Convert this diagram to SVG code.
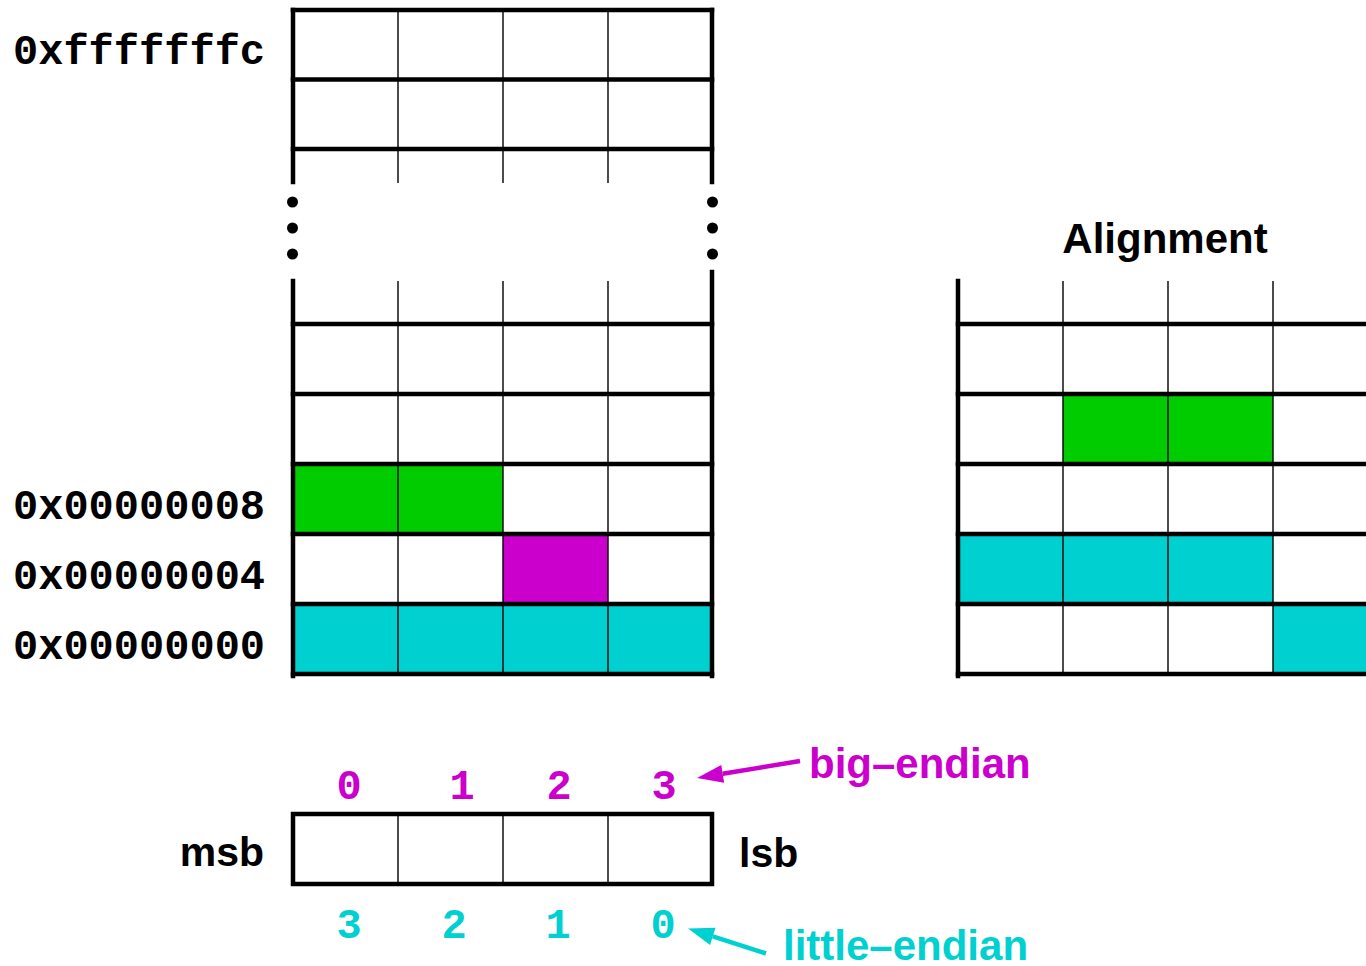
<svg xmlns="http://www.w3.org/2000/svg" width="1366" height="966" viewBox="0 0 1366 966">
  <style>
    .thick { stroke: #000; stroke-width: 4.5; fill: none; stroke-linecap: square; }
    .thin { stroke: #000; stroke-width: 1.4; fill: none; }
    .addr { font-family: "Liberation Mono", "Courier New", monospace; font-weight: bold; font-size: 42px; fill: #000; }
    .digit { font-family: "Liberation Mono", "Courier New", monospace; font-weight: bold; font-size: 42px; text-anchor: middle; }
    .label { font-family: "Liberation Sans", Arial, sans-serif; font-weight: bold; font-size: 41px; }
    .big { font-size: 42px; }
    .green { fill: #00cc00; }
    .magenta { fill: #cc00cc; }
    .cyan { fill: #00d0d0; }
  </style>
  <defs>
    <marker id="head-magenta" markerUnits="userSpaceOnUse" markerWidth="26" markerHeight="18" refX="0" refY="9" orient="auto" overflow="visible">
      <path d="M0,0 L26,9 L0,18 Z" fill="#cc00cc"/>
    </marker>
    <marker id="head-cyan" markerUnits="userSpaceOnUse" markerWidth="26" markerHeight="18" refX="0" refY="9" orient="auto" overflow="visible">
      <path d="M0,0 L26,9 L0,18 Z" fill="#00d0d0"/>
    </marker>
  </defs>

  <rect width="1366" height="966" fill="#fff"/>

  <!-- Memory column, byte addresses -->
  <g id="memory">
    <!-- filled bytes -->
    <rect class="green" x="293" y="464" width="210" height="70"/>
    <rect class="magenta" x="503" y="534" width="105" height="70"/>
    <rect class="cyan" x="293" y="604" width="419" height="70"/>

    <!-- top part -->
    <path class="thin" d="M398,10 V183 M503,10 V183 M608,10 V183"/>
    <path class="thick" d="M293,10 H712 M293,79.5 H712 M293,149 H712"/>
    <path class="thick" d="M293,10 V182 M712,10 V182" stroke-linecap="butt"/>

    <!-- ellipsis -->
    <g fill="#000">
      <circle cx="292.5" cy="202" r="5.5"/>
      <circle cx="292.5" cy="228" r="5.5"/>
      <circle cx="292.5" cy="254" r="5.5"/>
      <circle cx="712.5" cy="202" r="5.5"/>
      <circle cx="712.5" cy="228" r="5.5"/>
      <circle cx="712.5" cy="254" r="5.5"/>
    </g>

    <!-- bottom part -->
    <path class="thin" d="M398,281 V674 M503,281 V674 M608,281 V674"/>
    <path class="thick" d="M293,324 H712 M293,394 H712 M293,464 H712 M293,534 H712 M293,604 H712 M293,674 H712"/>
    <path class="thick" d="M293,281 V676 M712,272 V676" stroke-linecap="butt"/>
  </g>

  <g id="addresses">
    <text class="addr" x="13" y="64">0xfffffffc</text>
    <text class="addr" x="13" y="519">0x00000008</text>
    <text class="addr" x="13" y="589">0x00000004</text>
    <text class="addr" x="13" y="659">0x00000000</text>
  </g>

  <!-- Alignment column -->
  <g id="alignment">
    <text class="label big" x="1165" y="253" text-anchor="middle" fill="#000">Alignment</text>
    <rect class="green" x="1063" y="394" width="210" height="70"/>
    <rect class="cyan" x="958" y="534" width="315" height="70"/>
    <rect class="cyan" x="1273" y="604" width="93" height="70"/>
    <path class="thin" d="M1063,281 V674 M1168,281 V674 M1273,281 V674"/>
    <path class="thick" d="M958,324 H1368 M958,394 H1368 M958,464 H1368 M958,534 H1368 M958,604 H1368 M958,674 H1368"/>
    <path class="thick" d="M958,281 V676" stroke-linecap="butt"/>
  </g>

  <!-- Word layout: byte order -->
  <g id="word">
    <path class="thin" d="M398,814 V884 M503,814 V884 M608,814 V884"/>
    <rect class="thick" x="293" y="814" width="419" height="70" stroke-linecap="butt"/>
    <text class="label" x="264" y="866" text-anchor="end" fill="#000">msb</text>
    <text class="label" x="739" y="867" fill="#000">lsb</text>
  </g>

  <g id="big-endian">
    <text class="digit magenta" x="349" y="798.5">0</text>
    <text class="digit magenta" x="462" y="798.5">1</text>
    <text class="digit magenta" x="559" y="798.5">2</text>
    <text class="digit magenta" x="664" y="798.5">3</text>
    <text class="label big magenta" x="809" y="778">big–endian</text>
  </g>

  <g id="little-endian">
    <text class="digit cyan" x="349" y="938">3</text>
    <text class="digit cyan" x="454" y="938">2</text>
    <text class="digit cyan" x="558" y="938">1</text>
    <text class="digit cyan" x="663" y="938">0</text>
    <text class="label big cyan" x="783" y="960">little–endian</text>
  </g>

  <!-- connectors -->
  <g id="connectors" stroke-width="4.5" fill="none">
    <path d="M800,761 L722.7,773.8" stroke="#cc00cc" marker-end="url(#head-magenta)"/>
    <path d="M766,953.5 L712.8,936.4" stroke="#00d0d0" marker-end="url(#head-cyan)"/>
  </g>
</svg>
